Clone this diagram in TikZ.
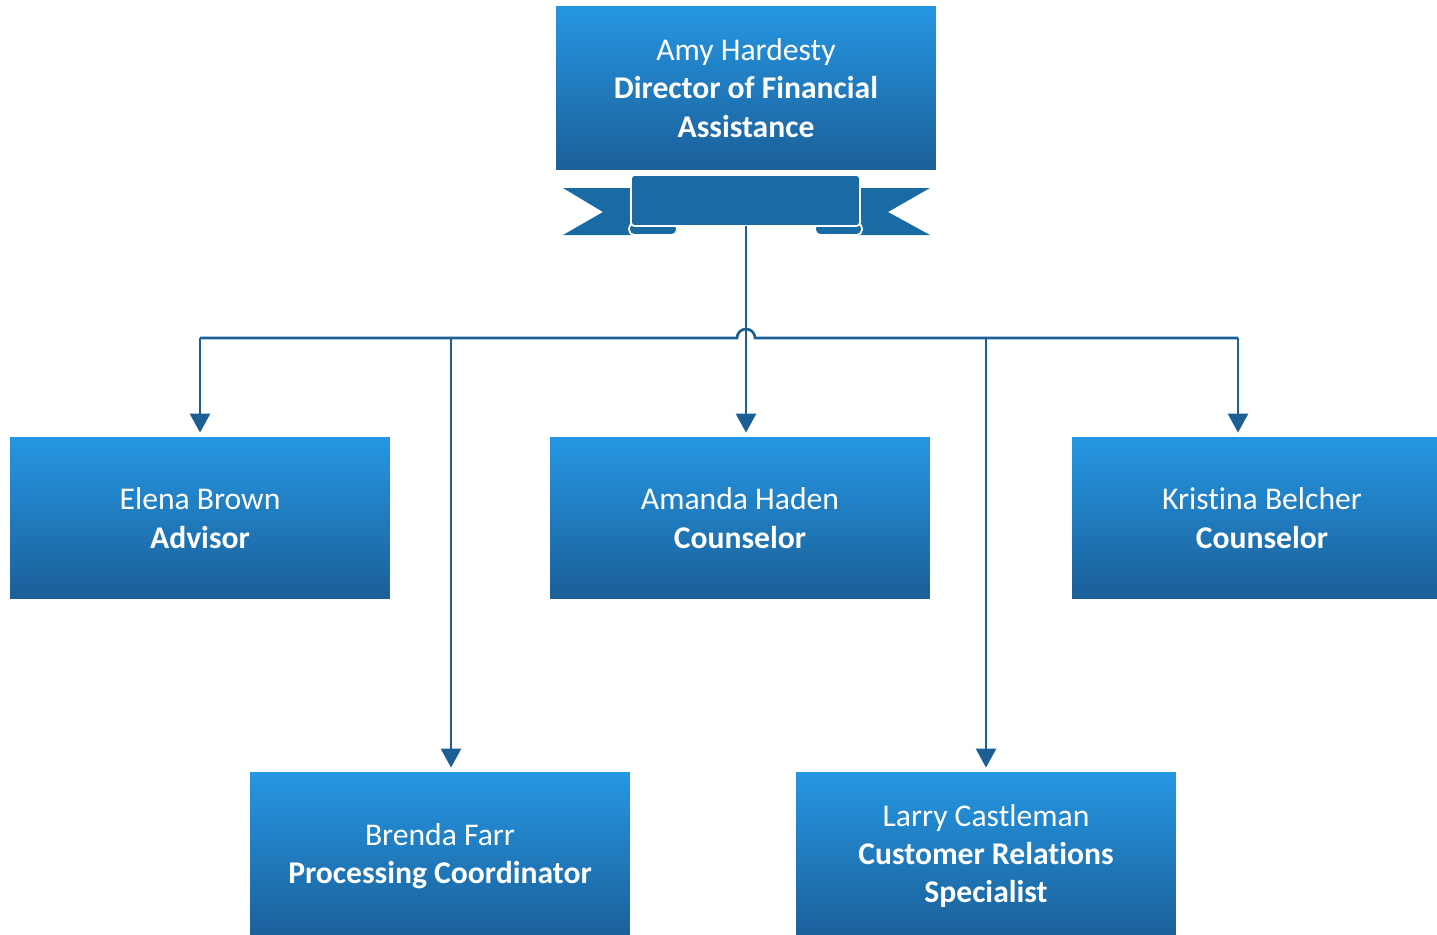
\documentclass[tikz,border=0pt]{standalone}
\usepackage{fontspec}
\setmainfont{Carlito}[Ligatures=NoCommon]
\usetikzlibrary{positioning,arrows.meta}
\definecolor{boxtop}{HTML}{2596E2}
\definecolor{boxbot}{HTML}{1B5F98}
\definecolor{ribbon}{HTML}{1A6BA3}
\definecolor{linkcol}{HTML}{1C5F95}

\begin{document}
\begin{tikzpicture}[x=0.02cm, y=-0.02cm,
    person/.style={minimum width=7.6cm, minimum height=3.24cm, inner sep=0pt,
      top color=boxtop, bottom color=boxbot, text=white, align=center,
      font=\fontsize{18}{21.9}\selectfont},
    link/.style={draw=linkcol, line width=1.5pt},
    tip/.style={-{Triangle[width=0.4cm,length=0.38cm]}, shorten >=2.3pt}]

    \useasboundingbox (0,0) rectangle (1437,934);

    % Director
    \node[person, minimum height=3.28cm] (director) at (746,88)
      {Amy Hardesty\\\textbf{Director of Financial}\\\textbf{Assistance}};

    % Ribbon tails
    \fill[ribbon] (563,188) -- (640,188) -- (640,235) -- (563,235) -- (603,212) -- cycle;
    \fill[ribbon] (930,188) -- (850,188) -- (850,235) -- (930,235) -- (888,212) -- cycle;

    % Ribbon curls
    \draw[white, fill=ribbon, line width=1pt, rounded corners=3pt] (629,223) rectangle (677,235);
    \draw[white, fill=ribbon, line width=1pt, rounded corners=3pt] (815,223) rectangle (862,235);

    % Ribbon banner
    \draw[white, fill=ribbon, line width=1pt, rounded corners=2pt] (631,175) rectangle (860,226);
    \coordinate (ribbon) at (746,226);

    % Staff
    \node[person] (elena) at (200,518) {Elena Brown\\\textbf{Advisor}};
    \node[person] (amanda) at (740,518) {Amanda Haden\\\textbf{Counselor}};
    \node[person] (kristina) at (1262,518) {Kristina Belcher\\\textbf{Counselor}};
    \node[person, minimum height=3.36cm] (brenda) at (440,856) {Brenda Farr\\\textbf{Processing Coordinator}};
    \node[person, minimum height=3.36cm] (larry) at (986,856) {Larry Castleman\\\textbf{Customer Relations}\\\textbf{Specialist}};

    % Bus points
    \coordinate (hop) at (746,338);
    \coordinate (bdrop) at (451,338);
    \coordinate (ldrop) at (986,338);
    \coordinate (kdrop) at (1238,338);

    % Trunk
    \draw[link, tip] (ribbon) -- (ribbon |- amanda.north);

    % Bus with hop over the trunk
    \draw[link] (elena.north |- hop) -- ([xshift=-0.18cm]hop)
      arc[start angle=180, end angle=0, radius=0.18cm] -- (kdrop);

    % Drops
    \draw[link, tip] (elena.north |- hop) -- (elena.north);
    \draw[link, tip] (bdrop) -- (bdrop |- brenda.north);
    \draw[link, tip] (ldrop) -- (ldrop |- larry.north);
    \draw[link, tip] (kdrop) -- (kdrop |- kristina.north);
\end{tikzpicture}
\end{document}
